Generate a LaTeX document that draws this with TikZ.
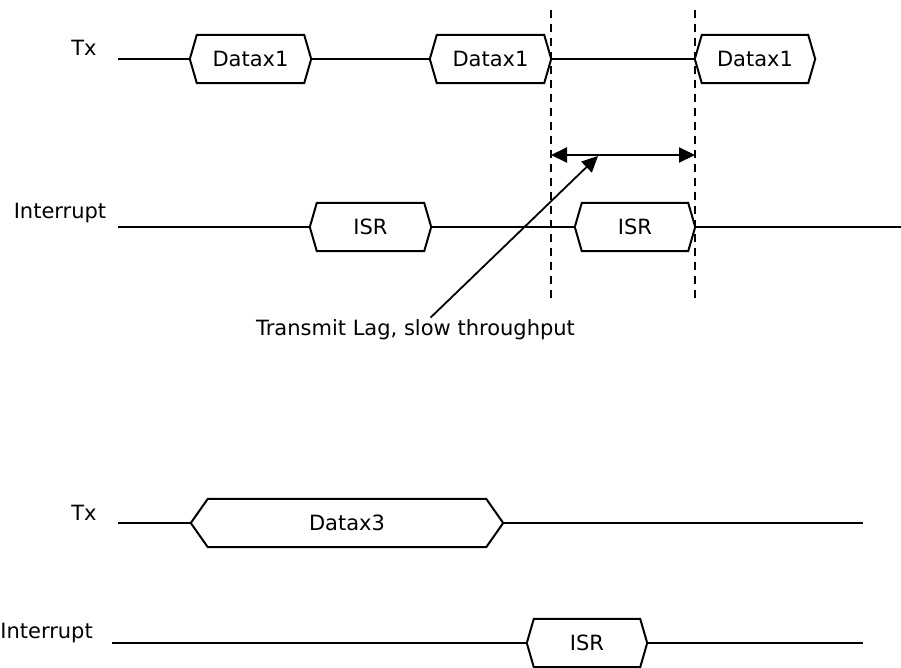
\documentclass[tikz,border=0pt]{standalone}
\usepackage{fontspec}
\setmainfont{DejaVu Sans}
\usetikzlibrary{arrows.meta}
\begin{document}
\begin{tikzpicture}[x=1pt,y=-1pt,
  sig/.style={line width=2pt,line join=miter},
  wire/.style={line width=2pt},
  hexnode/.style={inner sep=0pt,minimum height=48pt,font=\fontsize{21}{25}\selectfont},
  lbl/.style={inner sep=0pt,font=\fontsize{21}{25}\selectfont},
  guide/.style={line width=1.6pt,dash pattern=on 8pt off 6pt},
  arr/.style={line width=1.8pt,-{Triangle[length=16pt,width=15pt]}},
  darr/.style={line width=2pt,{Triangle[length=16pt,width=15pt]}-{Triangle[length=16pt,width=15pt]}}]
\newcommand\hexdraw[2]{\draw[sig] (#1.west) -- ([xshift=#2]#1.north west) -- ([xshift=-#2]#1.north east) -- (#1.east) -- ([xshift=-#2]#1.south east) -- ([xshift=#2]#1.south west) -- cycle;}
\useasboundingbox (0,0) rectangle (901,667);

% ---------- top section ----------
\node[lbl] (tx1) at (84,48) {Tx};
\node[lbl] (int1) at (60,213) {Interrupt};

\coordinate (txs1) at (118,59);
\node[hexnode,minimum width=121pt] (d1) at (250.5,59) {Datax1};
\node[hexnode,minimum width=121pt] (d2) at (490.5,59) {Datax1};
\node[hexnode,minimum width=120pt] (d3) at (755,59) {Datax1};
\hexdraw{d1}{7}\hexdraw{d2}{7}\hexdraw{d3}{7}
\draw[wire] (txs1) -- (d1.west) (d1.east) -- (d2.west) (d2.east) -- (d3.west);

\coordinate (ints1) at (118,227);
\coordinate (inte1) at (901,227);
\node[hexnode,minimum width=121pt] (i1) at (370.5,227) {ISR};
\node[hexnode,minimum width=120pt] (i2) at (635,227) {ISR};
\hexdraw{i1}{7}\hexdraw{i2}{7}
\draw[wire] (ints1) -- (i1.west) (i1.east) -- (i2.west) (i2.east) -- (inte1);

\coordinate (g1t) at (551,10);
\coordinate (g1b) at (551,298);
\coordinate (g2t) at (695,10);
\coordinate (g2b) at (695,298);
\draw[guide] (g1t) -- (g1b);
\draw[guide] (g2t) -- (g2b);

\coordinate (lagl) at (551,155);
\coordinate (lagr) at (695,155);
\draw[darr] (lagl) -- (lagr);

\node[lbl] (lag) at (415.5,330) {Transmit Lag, slow throughput};
\coordinate (lagtip) at (598,156);
\draw[arr] ([xshift=15pt,yshift=2pt]lag.north) -- (lagtip);

% ---------- bottom section ----------
\node[lbl] (tx2) at (84,513) {Tx};
\node[lbl,anchor=east] (int2) at (93,633) {Interrupt};

\coordinate (txs2) at (118,523);
\coordinate (txe2) at (863,523);
\node[hexnode,minimum width=312pt] (d4) at (347,523) {Datax3};
\hexdraw{d4}{17}
\draw[wire] (txs2) -- (d4.west) (d4.east) -- (txe2);

\coordinate (ints2) at (112,643);
\coordinate (inte2) at (863,643);
\node[hexnode,minimum width=120pt] (i3) at (587,643) {ISR};
\hexdraw{i3}{7}
\draw[wire] (ints2) -- (i3.west) (i3.east) -- (inte2);
\end{tikzpicture}
\end{document}
